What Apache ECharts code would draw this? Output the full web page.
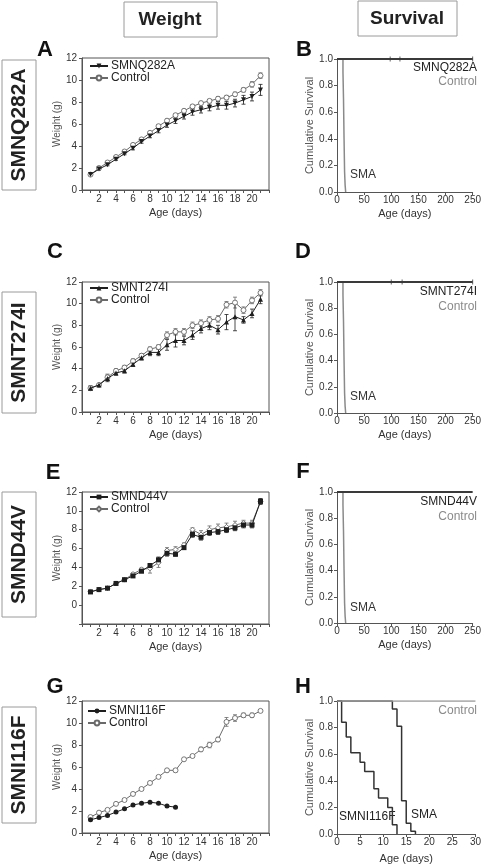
<!DOCTYPE html>
<html><head><meta charset="utf-8">
<script src="https://cdn.jsdelivr.net/npm/echarts@6/dist/echarts.min.js"></script>
<style>html,body{margin:0;padding:0;background:#fff}#c{width:484px;height:865px}</style>
</head><body><div id="c"></div>
<script>
// ---------- DATA ----------
const days = [1,2,3,4,5,6,7,8,9,10,11,12,13,14,15,16,17,18,19,20,21];
const iDays = [1,2,3,4,5,6,7,8,9,10,11];

const qName = 'SMNQ282A';
const qMut = [1.4,1.9,2.3,2.8,3.3,3.8,4.4,4.9,5.4,5.9,6.3,6.7,7.1,7.3,7.5,7.7,7.7,7.9,8.2,8.5,9.1];
const qMutErr = [0.05,0.1,0.1,0.1,0.1,0.15,0.15,0.15,0.2,0.2,0.25,0.25,0.3,0.3,0.3,0.35,0.35,0.35,0.4,0.4,0.5];
const qCtl = [1.4,2.0,2.5,3.0,3.5,4.1,4.6,5.2,5.8,6.3,6.8,7.2,7.6,7.9,8.1,8.3,8.4,8.7,9.1,9.6,10.4];
const qCtlErr = [0.05,0.05,0.1,0.1,0.1,0.1,0.1,0.1,0.15,0.15,0.15,0.15,0.15,0.15,0.15,0.2,0.2,0.2,0.2,0.25,0.25];

const tName = 'SMNT274I';
const tMut = [2.2,2.5,3.1,3.6,3.8,4.4,5.0,5.5,5.5,6.2,6.6,6.6,7.1,7.7,8.0,7.6,8.3,8.8,8.5,9.1,10.4];
const tMutErr = [0.2,0.1,0.3,0.2,0.2,0.2,0.2,0.3,0.3,0.5,0.6,0.4,0.4,0.4,0.4,0.4,0.7,1.3,0.3,0.4,0.4];
const tCtl = [2.2,2.5,3.2,3.8,4.1,4.7,5.2,5.8,6.0,7.1,7.4,7.4,8.0,8.2,8.5,8.6,9.9,10.1,9.4,10.3,11.0];
const tCtlErr = [0.2,0.1,0.3,0.2,0.2,0.2,0.2,0.2,0.2,0.3,0.3,0.3,0.3,0.3,0.3,0.3,0.3,0.5,0.3,0.3,0.3];

const dName = 'SMND44V';
const dMut = [1.4,1.65,1.8,2.3,2.7,3.1,3.6,4.2,4.8,5.5,5.4,6.1,7.5,7.2,7.7,7.8,8.0,8.2,8.5,8.5,11.0];
const dMutErr = [0.1,0.05,0.05,0.1,0.1,0.15,0.15,0.2,0.3,0.3,0.2,0.2,0.3,0.3,0.3,0.3,0.3,0.3,0.3,0.3,0.3];
const dCtl = [1.45,1.65,1.8,2.3,2.7,3.3,3.8,3.9,4.5,5.8,5.9,6.4,8.0,7.5,8.0,8.2,8.3,8.5,8.7,8.7,11.0];
const dCtlErr = [0.1,0.05,0.05,0.1,0.1,0.15,0.15,0.5,0.5,0.3,0.3,0.2,0.2,0.4,0.4,0.4,0.4,0.4,0.3,0.3,0.3];

const iName = 'SMNI116F';
const iMut = [1.2,1.4,1.6,1.9,2.2,2.55,2.7,2.8,2.7,2.45,2.35];
const iMutErr = [0.05,0.05,0.05,0.05,0.05,0.05,0.05,0.05,0.05,0.05,0.05];
const iCtl = [1.45,1.85,2.1,2.65,3.0,3.55,4.0,4.55,5.1,5.7,5.7,6.7,7.0,7.6,8.0,8.5,10.1,10.45,10.7,10.7,11.1];
const iCtlErr = [0.05,0.05,0.05,0.05,0.1,0.1,0.1,0.1,0.1,0.15,0.15,0.1,0.1,0.2,0.25,0.2,0.4,0.3,0.2,0.2,0.05];

// survival (Kaplan-Meier steps)
const longDays = [0,250];
const longSurv = [1,1];
const smaDays = [0,11,12,13,14,15,16];
const smaSurv = [1,0.9,0.7,0.4,0.15,0.05,0];
const censorB = [98,116,250];
const censorD = [100,120,250];
const hCtlDays = [0,30];
const hCtl = [1,1];
const hMutDays = [0,1,2,3,5,6,8,9,11,12,13];
const hMut = [1,0.84,0.73,0.61,0.54,0.47,0.34,0.27,0.20,0.07,0];
const hSmaDays = [0,12,13,14,15,16,17];
const hSma = [1,0.94,0.81,0.25,0.08,0.02,0];

// ---------- HELPERS ----------
const FONT = 'Liberation Sans, Arial, sans-serif';
const AX = '#555', TXT = '#333', MUT = '#1e1e1e', CTL = '#6a6a6a', GRAY = '#8a8a8a';
const zip = (xs, ys) => xs.map((x, i) => [x, ys[i]]);
const zip3 = (xs, ys, es) => xs.map((x, i) => [x, ys[i], es[i]]);

function errRender(color) {
  return function (params, api) {
    const x = api.value(0), y = api.value(1), e = api.value(2);
    const hi = api.coord([x, y + e]), lo = api.coord([x, y - e]);
    const w = 2;
    const st = { stroke: color, lineWidth: 0.8 };
    return { type: 'group', children: [
      { type: 'line', shape: { x1: hi[0], y1: hi[1], x2: lo[0], y2: lo[1] }, style: st },
      { type: 'line', shape: { x1: hi[0] - w, y1: hi[1], x2: hi[0] + w, y2: hi[1] }, style: st },
      { type: 'line', shape: { x1: lo[0] - w, y1: lo[1], x2: lo[0] + w, y2: lo[1] }, style: st }
    ]};
  };
}

const weightGrids = [
  { left: 82, top: 58, width: 187, height: 132 },
  { left: 82, top: 282, width: 187, height: 130 },
  { left: 82, top: 492, width: 187, height: 132 },
  { left: 82, top: 701, width: 187, height: 132 }
];
const survGrids = [
  { left: 337, top: 59, width: 140, height: 133 },
  { left: 337, top: 282, width: 140, height: 131 },
  { left: 337, top: 492, width: 140, height: 131 },
  { left: 337, top: 701, width: 140, height: 133 }
];
const grid = weightGrids.map(g => Object.assign({ show: true, borderColor: AX, borderWidth: 1, backgroundColor: 'transparent' }, g))
  .concat(survGrids.map(g => Object.assign({ show: false }, g)));

const xAxis = [], yAxis = [];
for (let i = 0; i < 4; i++) {
  xAxis.push({ type: 'value', gridIndex: i, min: 0, max: 22, interval: 1,
    axisLine: { onZero: false, lineStyle: { color: AX } }, axisTick: { length: 3, lineStyle: { color: AX } },
    axisLabel: { fontSize: 10, color: TXT, margin: 4, fontFamily: FONT,
      formatter: v => (v % 2 === 0 && v > 0 && v < 22) ? String(v) : '' },
    splitLine: { show: false },
    name: 'Age (days)', nameLocation: 'middle', nameGap: 17,
    nameTextStyle: { fontSize: 11, color: TXT, fontFamily: FONT } });
  yAxis.push({ type: 'value', gridIndex: i, min: i === 2 ? -2 : 0, max: 12, interval: 2,
    axisLine: { show: true, onZero: false, lineStyle: { color: AX } }, axisTick: { show: true, length: 3, lineStyle: { color: AX } },
    axisLabel: { fontSize: 10, color: TXT, margin: 5, fontFamily: FONT, formatter: v => v < 0 ? '' : String(v) },
    splitLine: { show: false },
    name: 'Weight (g)', nameLocation: 'middle', nameGap: 20, nameRotate: 90,
    nameTextStyle: { fontSize: 10, color: '#555', fontFamily: FONT } });
}
for (let i = 0; i < 4; i++) {
  const isH = i === 3;
  xAxis.push({ type: 'value', gridIndex: 4 + i, min: 0, max: isH ? 30 : 250, interval: isH ? 5 : 50,
    axisLine: { onZero: false, lineStyle: { color: AX, width: 1 } }, axisTick: { length: 3, lineStyle: { color: AX } },
    axisLabel: { fontSize: 10, color: TXT, margin: 3, fontFamily: FONT },
    splitLine: { show: false },
    name: 'Age (days)', nameLocation: 'middle', nameGap: isH ? 19 : 16,
    nameTextStyle: { fontSize: 11, color: TXT, fontFamily: FONT } });
  yAxis.push({ type: 'value', gridIndex: 4 + i, min: 0, max: 1, interval: 0.2,
    axisLine: { show: true, onZero: false, lineStyle: { color: AX, width: 1 } }, axisTick: { show: true, length: 3, lineStyle: { color: AX } },
    axisLabel: { fontSize: 10, color: TXT, margin: 4, fontFamily: FONT, formatter: v => v.toFixed(1) },
    splitLine: { show: false },
    name: 'Cumulative Survival', nameLocation: 'middle', nameGap: 19, nameRotate: 90,
    nameTextStyle: { fontSize: 11, color: '#555', fontFamily: FONT } });
}

const series = [];
function weightPanel(gi, mutName, xs, mut, mutErr, mutSym, mutRot, ctlName, xsC, ctl, ctlErr, ctlSym) {
  series.push({ type: 'custom', xAxisIndex: gi, yAxisIndex: gi, renderItem: errRender(CTL),
    data: zip3(xsC, ctl, ctlErr), encode: { x: 0, y: 1 }, silent: true, z: 2 });
  series.push({ type: 'custom', xAxisIndex: gi, yAxisIndex: gi, renderItem: errRender(MUT),
    data: zip3(xs, mut, mutErr), encode: { x: 0, y: 1 }, silent: true, z: 2 });
  series.push({ name: ctlName, type: 'line', xAxisIndex: gi, yAxisIndex: gi, data: zip(xsC, ctl),
    symbol: ctlSym, symbolSize: 5, showAllSymbol: true,
    lineStyle: { color: CTL, width: 1 }, itemStyle: { color: '#fff', borderColor: CTL, borderWidth: 0.9 }, z: 3 });
  series.push({ name: mutName, type: 'line', xAxisIndex: gi, yAxisIndex: gi, data: zip(xs, mut),
    symbol: mutSym, symbolRotate: mutRot, symbolSize: 5, showAllSymbol: true,
    lineStyle: { color: MUT, width: 1 }, itemStyle: { color: MUT }, z: 4 });
}
weightPanel(0, qName, days, qMut, qMutErr, 'triangle', 180, 'Control', days, qCtl, qCtlErr, 'circle');
weightPanel(1, tName, days, tMut, tMutErr, 'triangle', 0, 'Control ', days, tCtl, tCtlErr, 'circle');
weightPanel(2, dName, days, dMut, dMutErr, 'rect', 0, 'Control  ', days, dCtl, dCtlErr, 'diamond');
weightPanel(3, iName, iDays, iMut, iMutErr, 'circle', 0, 'Control   ', days, iCtl, iCtlErr, 'circle');

function survPanel(gi, censor) {
  series.push({ type: 'line', xAxisIndex: gi, yAxisIndex: gi, step: 'end', data: zip(smaDays, smaSurv),
    symbol: 'none', lineStyle: { color: GRAY, width: 1.5 }, z: 2 });
  series.push({ type: 'line', xAxisIndex: gi, yAxisIndex: gi, data: zip(longDays, longSurv),
    symbol: 'none', lineStyle: { color: '#3a3a3a', width: 2 }, z: 3 });
  if (censor) series.push({ type: 'scatter', xAxisIndex: gi, yAxisIndex: gi, data: censor.map(d => [d, 1]),
    symbol: 'rect', symbolSize: [1, 5], itemStyle: { color: '#3a3a3a' }, z: 4 });
}
survPanel(4, censorB);
survPanel(5, censorD);
survPanel(6, null);
series.push({ type: 'line', xAxisIndex: 7, yAxisIndex: 7, step: 'end', data: zip(hSmaDays, hSma),
  symbol: 'none', lineStyle: { color: '#333', width: 1.5 }, z: 2 });
series.push({ type: 'line', xAxisIndex: 7, yAxisIndex: 7, step: 'end', data: zip(hMutDays, hMut),
  symbol: 'none', lineStyle: { color: '#333', width: 1.5 }, z: 3 });
series.push({ type: 'line', xAxisIndex: 7, yAxisIndex: 7, data: zip(hCtlDays, hCtl),
  symbol: 'none', lineStyle: { color: '#9a9a9a', width: 1.5 }, z: 4 });

function legendAt(left, top, names) {
  return { orient: 'vertical', left, top, itemWidth: 18, itemHeight: 6, itemGap: 0, padding: 0,
    selectedMode: false, data: names.map(n => ({ name: n })),
    textStyle: { fontSize: 12, color: '#222', fontFamily: FONT, padding: [0, 0, 0, -2] } };
}
const legend = [
  legendAt(89, 60, [qName, 'Control']),
  legendAt(89, 282, [tName, 'Control ']),
  legendAt(89, 491, [dName, 'Control  ']),
  legendAt(87, 705, [iName, 'Control   '])
];

// ---------- TEXT / BOXES ----------
const g = [];
function box(x, y, w, h) { g.push({ type: 'rect', shape: { x, y, width: w, height: h }, style: { fill: '#fff', stroke: '#9a9a9a', lineWidth: 1 } }); }
function txt(x, y, text, size, color, opts) {
  g.push(Object.assign({ type: 'text', x, y, style: { text, fill: color, font: (opts && opts.bold ? 'bold ' : '') + size + 'px ' + FONT,
    align: (opts && opts.align) || 'center', verticalAlign: 'middle' } }, opts && opts.rot ? { rotation: opts.rot } : {}));
}
box(124, 2, 93, 35); txt(170, 20, 'Weight', 19, '#222', { bold: true });
box(358, 1, 99, 35); txt(407, 19, 'Survival', 19, '#222', { bold: true });
const rows = [[60, 130, qName], [292, 121, tName], [492, 125, dName], [707, 116, iName]];
rows.forEach(r => { box(2, r[0], 34, r[1]); txt(19, r[0] + r[1] / 2, r[2], 21, '#222', { bold: true, rot: Math.PI / 2 }); });
[['A', 45, 50], ['B', 304, 50], ['C', 55, 252], ['D', 303, 252], ['E', 53, 473], ['F', 303, 472], ['G', 55, 687], ['H', 303, 687]]
  .forEach(l => txt(l[1], l[2], l[0], 22, '#111', { bold: true }));
// survival labels
txt(477, 68, qName, 12, '#222', { align: 'right' }); txt(477, 82, 'Control', 12, GRAY, { align: 'right' }); txt(350, 175, 'SMA', 12, '#333', { align: 'left' });
txt(477, 292, tName, 12, '#222', { align: 'right' }); txt(477, 307, 'Control', 12, GRAY, { align: 'right' }); txt(350, 397, 'SMA', 12, '#333', { align: 'left' });
txt(477, 502, dName, 12, '#222', { align: 'right' }); txt(477, 517, 'Control', 12, GRAY, { align: 'right' }); txt(350, 608, 'SMA', 12, '#333', { align: 'left' });
txt(477, 711, 'Control', 12, GRAY, { align: 'right' }); txt(339, 817, iName, 12, '#222', { align: 'left' }); txt(411, 815, 'SMA', 12, '#222', { align: 'left' });

const chart = echarts.init(document.getElementById('c'), null, { renderer: 'canvas' });
chart.setOption({ animation: false, backgroundColor: '#fff', grid, xAxis, yAxis, series, legend, graphic: { elements: g } });
</script></body></html>
